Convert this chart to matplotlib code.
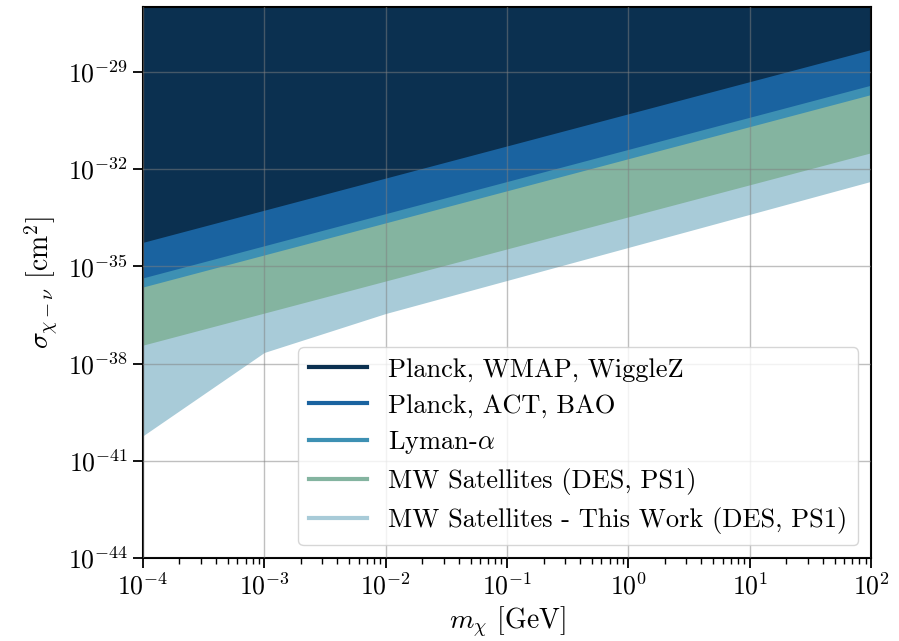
import matplotlib
matplotlib.use("Agg")
import matplotlib.pyplot as plt
from matplotlib.ticker import LogLocator, NullFormatter, NullLocator

plt.rcParams['font.family'] = 'serif'
plt.rcParams['font.serif'] = ['cmr10', 'DejaVu Serif']
plt.rcParams['mathtext.fontset'] = 'cm'
plt.rcParams['axes.formatter.use_mathtext'] = True

# ---- data (lower boundaries of excluded regions) ----
mass = [1e-4, 1e2]                       # GeV
planck_wmap = [5.5e-35, 4.9e-29]
planck_act = [4.4e-36, 3.9e-30]
lyman_alpha = [2.3e-36, 2.0e-30]
mw_sat = [3.7e-38, 3.2e-32]
mass_tw = [1e-4, 1e-3, 1e-2, 1e2]
mw_sat_tw = [5.9e-41, 2.2e-38, 3.5e-37, 4.2e-33]
sigma_top = 1e-27

labels = ["Planck, WMAP, WiggleZ", "Planck, ACT, BAO", r"Lyman-$\alpha$",
          "MW Satellites (DES, PS1)", "MW Satellites - This Work (DES, PS1)"]
colors = ["#0b3050", "#1a63a0", "#3d90b3", "#84b4a0", "#a8cbd8"]

fig = plt.figure(figsize=(8.99, 6.41), dpi=100)
ax = fig.add_axes([0.159, 0.1295, 0.81, 0.8595])

# draw from the weakest bound upward so stronger bounds overlay
ax.fill_between(mass_tw, mw_sat_tw, sigma_top, color=colors[4], lw=0)
ax.fill_between(mass, mw_sat, sigma_top, color=colors[3], lw=0)
ax.fill_between(mass, lyman_alpha, sigma_top, color=colors[2], lw=0)
ax.fill_between(mass, planck_act, sigma_top, color=colors[1], lw=0)
ax.fill_between(mass, planck_wmap, sigma_top, color=colors[0], lw=0)

for c, lab in zip(colors, labels):
    ax.plot([], [], color=c, lw=3, label=lab)

ax.set_xscale('log')
ax.set_yscale('log')
ax.set_xlim(1e-4, 1e2)
ax.set_ylim(1e-44, sigma_top)

ax.set_yticks([1e-44, 1e-41, 1e-38, 1e-35, 1e-32, 1e-29])
ax.yaxis.set_minor_locator(NullLocator())
ax.xaxis.set_major_locator(LogLocator(base=10, numticks=10))
ax.xaxis.set_minor_locator(LogLocator(base=10, subs=range(2, 10), numticks=20))
ax.xaxis.set_minor_formatter(NullFormatter())

ax.grid(True, which='major', color='gray', alpha=0.5, lw=1)
ax.set_axisbelow(False)

ax.tick_params(which='major', direction='out', length=7, width=1.3, labelsize=18.5)
ax.tick_params(which='minor', direction='out', length=4, width=1)
for s in ax.spines.values():
    s.set_linewidth(1.5)

ax.set_xlabel(r'$m_\chi$ [GeV]', fontsize=20, labelpad=4)
ax.set_ylabel(r'$\sigma_{\chi-\nu}$ [cm$^2$]', fontsize=20, labelpad=6)

leg = ax.legend(loc='lower right', fontsize=19, handlelength=2.2, labelspacing=0.45)
leg.get_frame().set_edgecolor('#cccccc')

fig.savefig('out.png', dpi=100)
